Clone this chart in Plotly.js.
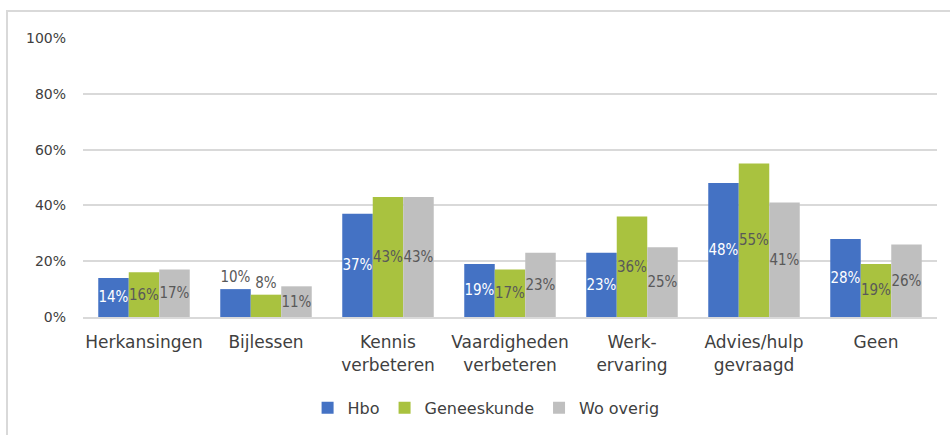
<!DOCTYPE html>
<html>
<head>
<meta charset="utf-8">
<script src="https://cdn.plot.ly/plotly-3.0.1.min.js"></script>
<style>
html,body{margin:0;padding:0;background:#fff;}
#wrap{position:relative;width:950px;height:435px;overflow:hidden;}
#chart{width:950px;height:435px;}
#frame{position:absolute;left:6px;top:10px;width:1000px;height:1000px;border-left:2px solid #d9d9d9;border-top:2px solid #d9d9d9;pointer-events:none;}
</style>
</head>
<body>
<div id="wrap"><div id="chart"></div><div id="frame"></div></div>
<script>
const categories = ["Herkansingen", "Bijlessen", "Kennis<br>verbeteren", "Vaardigheden<br>verbeteren", "Werk-<br>ervaring", "Advies/hulp<br>gevraagd", "Geen"];
const hbo = [14, 10, 37, 19, 23, 48, 28];
const geneeskunde = [16, 8, 43, 17, 36, 55, 19];
const woOverig = [17, 11, 43, 23, 25, 41, 26];
const hboPos = ["inside", "outside", "inside", "inside", "inside", "inside", "inside"];
const genPos = ["inside", "outside", "inside", "inside", "inside", "inside", "inside"];
const woPos = ["inside", "inside", "inside", "inside", "inside", "inside", "inside"];
const yTicks = [0, 20, 40, 60, 80, 100];

const labelFont = "DejaVu Sans Condensed, DejaVu Sans, sans-serif";
function mk(name, vals, color, pos, txtColor) {
  return {
    type: "bar", name: name, x: categories, y: vals,
    marker: {color: color},
    text: vals.map(v => v + "%"),
    textposition: pos,
    textangle: 0,
    insidetextanchor: "middle",
    textfont: {family: labelFont, size: 15, color: pos.map(p => p === "outside" ? "#595959" : txtColor)},
    cliponaxis: false,
    hoverinfo: "none"
  };
}
const data = [
  mk("Hbo", hbo, "#4472C4", hboPos, "#ffffff"),
  mk("Geneeskunde", geneeskunde, "#A9C23F", genPos, "#595959"),
  mk("Wo overig", woOverig, "#BFBFBF", woPos, "#595959")
];
const layout = {
  width: 950, height: 435,
  margin: {l: 83, r: 13, t: 38, b: 118, autoexpand: false},
  paper_bgcolor: "#fff", plot_bgcolor: "#fff",
  barmode: "group", bargap: 0.25, bargroupgap: 0,
  font: {family: "DejaVu Sans, sans-serif", color: "#404040"},
  uniformtext: {mode: "show", minsize: 15},
  xaxis: {
    type: "category", tickfont: {size: 17, color: "#404040"},
    showgrid: false, showline: true, linecolor: "#d9d9d9", linewidth: 2,
    ticks: "", ticklabelstandoff: 9, fixedrange: true, automargin: false
  },
  yaxis: {
    range: [0, 100], tickvals: yTicks, ticktext: yTicks.map(v => v + "%"),
    tickfont: {size: 14, color: "#404040"},
    showgrid: true, gridcolor: "#d9d9d9", gridwidth: 2,
    zeroline: false, showline: false, ticks: "", ticklabelstandoff: 16,
    fixedrange: true, automargin: false
  },
  showlegend: true,
  legend: {
    orientation: "h", x: 0.472, xanchor: "center", y: -0.326, yanchor: "middle",
    font: {size: 16, color: "#404040"}, itemwidth: 30, traceorder: "normal"
  }
};
Plotly.newPlot("chart", data, layout, {displayModeBar: false, staticPlot: true});
</script>
</body>
</html>
